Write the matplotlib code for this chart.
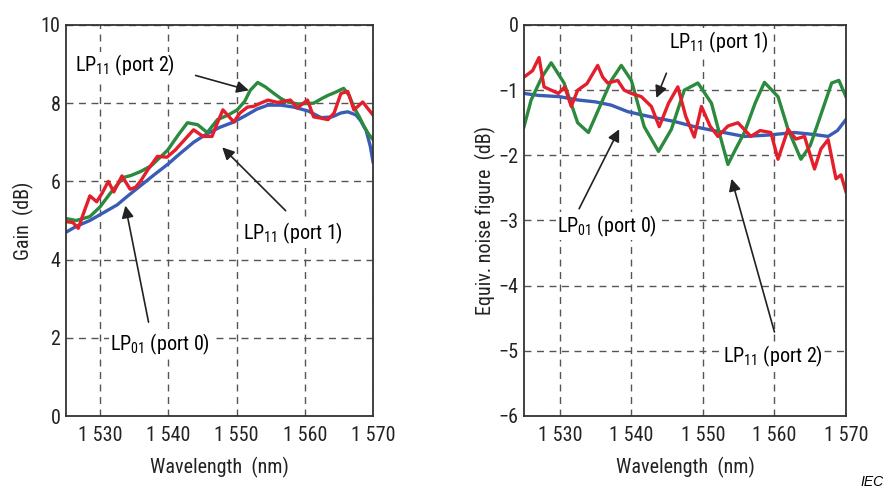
import matplotlib
matplotlib.use("Agg")
import matplotlib.pyplot as plt

plt.rcParams['font.family'] = ['Roboto Condensed', 'Liberation Sans', 'DejaVu Sans']
plt.rcParams['mathtext.fontset'] = 'custom'
plt.rcParams['mathtext.rm'] = 'Roboto Condensed'

# Gain panel (left)
gain_lp01_wl = [1525.0, 1526.5, 1528.5, 1530.5, 1532.5, 1534.0, 1536.0, 1538.0, 1540.0, 1541.5,
                1543.7, 1545.5, 1547.5, 1549.6, 1551.5, 1553.0, 1554.6, 1556.5, 1558.4, 1560.5,
                1562.4, 1564.0, 1565.3, 1566.3, 1567.5, 1568.2, 1569.0, 1569.6, 1570.0]
gain_lp01 = [4.70, 4.85, 5.00, 5.20, 5.40, 5.62, 5.90, 6.18, 6.45, 6.68,
             7.00, 7.20, 7.38, 7.52, 7.70, 7.85, 7.95, 7.95, 7.90, 7.80,
             7.63, 7.65, 7.75, 7.78, 7.70, 7.55, 7.30, 6.90, 6.50]

gain_p2_wl = [1525.0, 1526.5, 1528.5, 1530.0, 1531.5, 1533.4, 1534.5, 1535.9, 1537.5, 1539.9,
              1541.5, 1542.8, 1544.3, 1545.7, 1547.2, 1548.8, 1550.1, 1551.2, 1552.0, 1553.1,
              1554.2, 1555.4, 1556.5, 1557.5, 1559.0, 1561.3, 1562.5, 1563.4, 1564.5, 1565.7,
              1566.5, 1567.2, 1568.0, 1568.7, 1569.4, 1570.0]
gain_p2 = [5.05, 5.00, 5.10, 5.35, 5.70, 6.10, 6.15, 6.25, 6.40, 6.80,
           7.20, 7.50, 7.45, 7.25, 7.58, 7.70, 7.83, 8.05, 8.33, 8.53,
           8.42, 8.26, 8.12, 8.03, 7.98, 8.00, 8.12, 8.20, 8.28, 8.38,
           8.20, 7.90, 7.65, 7.40, 7.20, 7.07]

gain_p1_wl = [1525.0, 1526.0, 1526.8, 1527.6, 1528.5, 1529.5, 1530.3, 1531.2, 1532.0, 1533.2,
              1534.4, 1535.2, 1535.9, 1537.0, 1538.4, 1539.8, 1541.0, 1542.3, 1543.7, 1545.1,
              1546.4, 1547.2, 1548.0, 1549.6, 1550.5, 1551.6, 1552.5, 1553.5, 1554.6, 1556.0,
              1557.9, 1558.9, 1560.4, 1561.3, 1562.3, 1563.4, 1564.3, 1565.3, 1566.3, 1567.2,
              1568.5, 1569.3, 1570.0]
gain_p1 = [4.97, 4.95, 4.80, 5.20, 5.63, 5.48, 5.70, 6.00, 5.73, 6.14,
           5.80, 5.85, 6.00, 6.30, 6.64, 6.62, 6.80, 7.05, 7.32, 7.15,
           7.15, 7.50, 7.83, 7.52, 7.75, 7.90, 7.92, 8.00, 8.08, 8.02,
           8.08, 7.88, 8.08, 7.65, 7.62, 7.58, 7.75, 8.25, 8.30, 7.83,
           8.03, 7.85, 7.70]

# Noise figure panel (right)
nf_lp01_wl = [1525.0, 1527.0, 1530.0, 1532.5, 1535.0, 1537.2, 1539.5, 1541.5, 1543.2, 1546.0,
              1548.8, 1551.5, 1555.8, 1559.0, 1562.8, 1565.5, 1567.5, 1568.8, 1570.0]
nf_lp01 = [-1.05, -1.08, -1.10, -1.15, -1.18, -1.23, -1.33, -1.38, -1.42, -1.48,
           -1.56, -1.62, -1.71, -1.69, -1.65, -1.68, -1.71, -1.62, -1.45]

nf_p2_wl = [1525.0, 1526.0, 1527.5, 1528.8, 1530.6, 1532.5, 1534.0, 1535.8, 1537.2, 1538.6,
            1540.0, 1541.8, 1543.8, 1545.6, 1547.4, 1549.3, 1551.2, 1552.4, 1553.5, 1554.6,
            1555.8, 1557.3, 1558.6, 1560.5, 1561.9, 1563.7, 1565.0, 1566.1, 1568.0, 1569.0,
            1570.0]
nf_p2 = [-1.56, -1.15, -0.80, -0.58, -0.89, -1.50, -1.65, -1.20, -0.85, -0.62,
         -0.85, -1.56, -1.94, -1.60, -1.00, -0.89, -1.20, -1.70, -2.14, -1.90,
         -1.65, -1.20, -0.88, -1.10, -1.60, -2.06, -1.85, -1.50, -0.89, -0.85,
         -1.10]

nf_p1_wl = [1525.0, 1526.2, 1527.1, 1527.8, 1528.8, 1529.8, 1530.7, 1531.6, 1532.5, 1533.8,
            1535.3, 1536.0, 1536.7, 1538.1, 1539.0, 1540.0, 1541.4, 1542.8, 1543.9, 1545.2,
            1546.5, 1547.6, 1548.8, 1549.8, 1551.0, 1552.1, 1553.5, 1554.9, 1556.7, 1558.0,
            1559.5, 1560.5, 1561.9, 1563.0, 1564.2, 1565.6, 1566.5, 1567.5, 1568.6, 1569.3,
            1570.0]
nf_p1 = [-0.80, -0.70, -0.50, -0.95, -1.00, -1.05, -0.95, -1.25, -1.00, -0.90,
         -0.62, -0.80, -0.89, -0.85, -1.00, -1.05, -1.10, -1.25, -1.56, -1.20,
         -0.95, -1.40, -1.72, -1.25, -1.55, -1.71, -1.55, -1.50, -1.71, -1.62,
         -1.65, -2.06, -1.60, -1.75, -1.71, -2.21, -1.90, -1.76, -2.36, -2.30,
         -2.56]

wl_ticks = [1530, 1540, 1550, 1560, 1570]
wl_ticklabels = ['1 530', '1 540', '1 550', '1 560', '1 570']

blue = '#3a5cb4'
green = '#2b8a3e'
red = '#e41e2b'
fs = 14.5

fig = plt.figure(figsize=(8.88, 4.91), dpi=100)
ax1 = fig.add_axes([66 / 888, 1 - 416 / 491, 307 / 888, 391 / 491])
ax2 = fig.add_axes([524 / 888, 1 - 416 / 491, 322 / 888, 391 / 491])


def style(ax):
    ax.set_xlim(1525, 1570)
    ax.set_xticks(wl_ticks)
    ax.set_xticklabels(wl_ticklabels)
    ax.grid(True, linestyle=(0, (5, 4)), color='#555555', linewidth=1.0)
    ax.tick_params(direction='in', length=0, labelsize=fs, colors='#222222')
    ax.tick_params(axis='x', pad=7)
    ax.tick_params(axis='y', pad=4)
    for s in ax.spines.values():
        s.set_color('#333333')
        s.set_linewidth(1.3)
    ax.set_xlabel('Wavelength  (nm)', fontsize=fs, labelpad=9, color='#222222')


arrow = dict(arrowstyle='-|>', color='#222222', lw=1.2, mutation_scale=18, shrinkA=0, shrinkB=0)
box = dict(facecolor='white', edgecolor='none', pad=1)

# left panel
ax1.plot(gain_lp01_wl, gain_lp01, color=blue, lw=2.4)
ax1.plot(gain_p2_wl, gain_p2, color=green, lw=2.4)
ax1.plot(gain_p1_wl, gain_p1, color=red, lw=2.4)
ax1.set_ylim(0, 10)
ax1.set_yticks([0, 2, 4, 6, 8, 10])
style(ax1)
ax1.set_ylabel('Gain  (dB)', fontsize=fs, labelpad=5, color='#222222')

ax1.annotate('', xy=(1551.8, 8.33), xytext=(1544.0, 8.71), arrowprops=arrow)
ax1.text(1526.3, 8.96, 'LP$_{11}$ (port 2)', fontsize=fs, va='center', ha='left', bbox=box)
ax1.annotate('', xy=(1547.9, 6.87), xytext=(1557.2, 5.25), arrowprops=arrow)
ax1.text(1551.0, 4.67, 'LP$_{11}$ (port 1)', fontsize=fs, va='center', ha='left', bbox=box)
ax1.annotate('', xy=(1533.7, 5.38), xytext=(1537.1, 2.4), arrowprops=arrow)
ax1.text(1531.5, 1.84, 'LP$_{01}$ (port 0)', fontsize=fs, va='center', ha='left', bbox=box)

# right panel
ax2.plot(nf_lp01_wl, nf_lp01, color=blue, lw=2.4)
ax2.plot(nf_p2_wl, nf_p2, color=green, lw=2.4)
ax2.plot(nf_p1_wl, nf_p1, color=red, lw=2.4)
ax2.set_ylim(-6, 0)
ax2.set_yticks([-6, -5, -4, -3, -2, -1, 0])
ax2.set_yticklabels(['\u22126', '\u22125', '\u22124', '\u22123', '\u22122', '\u22121', '0'])
style(ax2)
ax2.set_ylabel('Equiv. noise figure  (dB)', fontsize=fs, labelpad=2, color='#222222')

ax2.annotate('', xy=(1543.5, -1.12), xytext=(1544.9, -0.74), arrowprops=arrow)
ax2.text(1545.3, -0.27, 'LP$_{11}$ (port 1)', fontsize=fs, va='center', ha='left', bbox=box)
ax2.annotate('', xy=(1538.3, -1.6), xytext=(1532.7, -2.82), arrowprops=arrow)
ax2.text(1529.6, -3.09, 'LP$_{01}$ (port 0)', fontsize=fs, va='center', ha='left', bbox=box)
ax2.annotate('', xy=(1554.0, -2.36), xytext=(1560.0, -4.71), arrowprops=arrow)
ax2.text(1552.8, -5.09, 'LP$_{11}$ (port 2)', fontsize=fs, va='center', ha='left', bbox=box)

fig.text(872 / 888, 1 - 482 / 491, 'IEC', fontsize=10, style='italic', ha='center', va='center',
         family=['Liberation Sans', 'DejaVu Sans'])

fig.savefig('out.png', dpi=100)
